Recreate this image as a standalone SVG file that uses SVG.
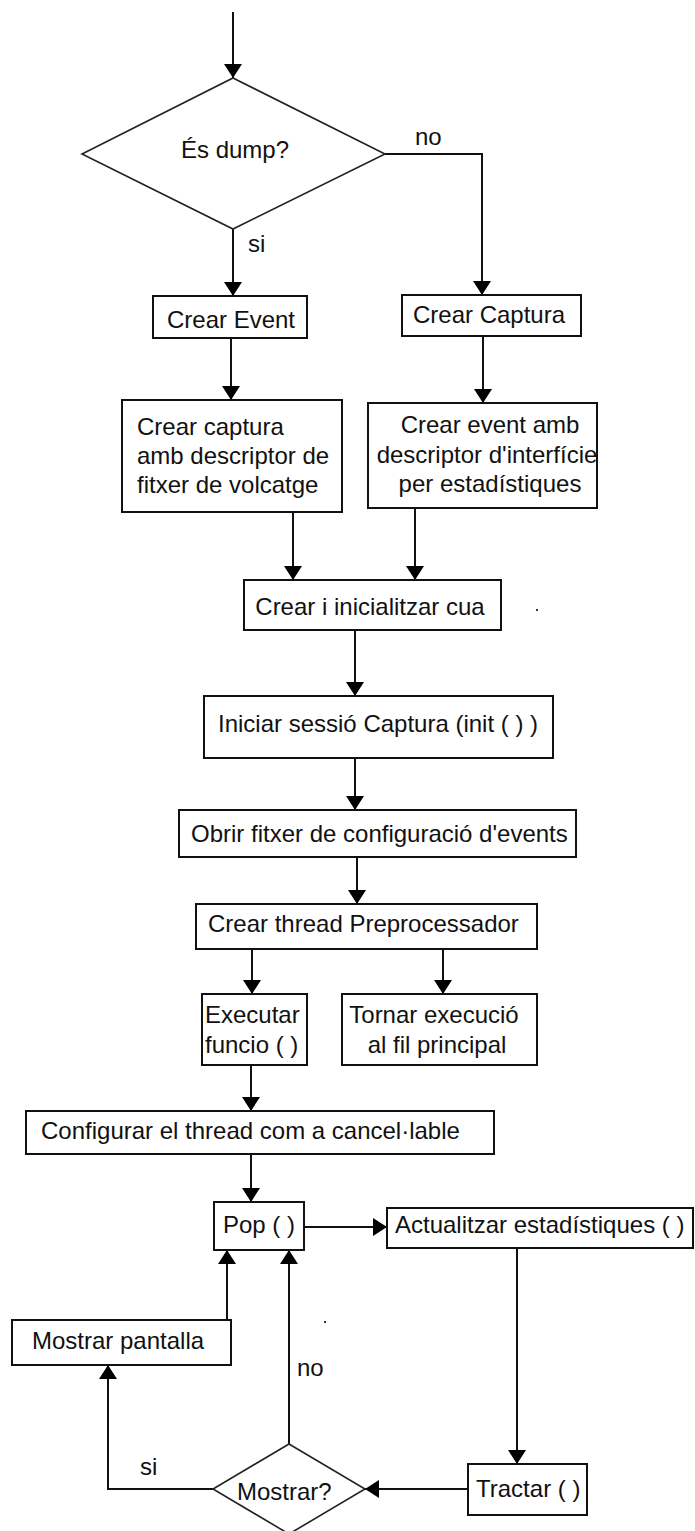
<svg xmlns="http://www.w3.org/2000/svg" width="695" height="1531" viewBox="0 0 695 1531">
  <style>
    .box { fill: #fff; stroke: #111; stroke-width: 2; }
    .dia { fill: #fff; stroke: #222; stroke-width: 1.6; }
    .lbl { font-family: "Liberation Sans", Arial, sans-serif; font-size: 24px; fill: #111; }
    .mid { text-anchor: middle; }
    .wire { fill: none; stroke: #111; stroke-width: 2; }
    .arrow { marker-end: url(#head); }
  </style>
  <defs>
    <marker id="head" markerUnits="userSpaceOnUse" viewBox="0 0 14 18" refX="14" refY="9" markerWidth="14" markerHeight="18" orient="auto">
      <path d="M0,0 L14,9 L0,18 z" fill="#000"/>
    </marker>
  </defs>
  <rect width="695" height="1531" fill="#fff"/>

  <!-- connectors -->
  <g id="connectors">
    <path class="wire arrow" d="M233,12 V78"/>
    <path class="wire arrow" d="M385,154 H482 V295"/>
    <path class="wire arrow" d="M233,229 V296"/>
    <path class="wire arrow" d="M231,338 V400"/>
    <path class="wire arrow" d="M483,336 V403"/>
    <path class="wire arrow" d="M293,512 V580"/>
    <path class="wire arrow" d="M415,508 V580"/>
    <path class="wire arrow" d="M355,630 V696"/>
    <path class="wire arrow" d="M355,758 V810"/>
    <path class="wire arrow" d="M357,857 V904"/>
    <path class="wire arrow" d="M252,949 V994"/>
    <path class="wire arrow" d="M443,949 V994"/>
    <path class="wire arrow" d="M251,1065 V1111"/>
    <path class="wire arrow" d="M251,1154 V1202"/>
    <path class="wire arrow" d="M304,1227 H387"/>
    <path class="wire arrow" d="M517,1248 V1464"/>
    <path class="wire arrow" d="M468,1489 H365"/>
    <path class="wire arrow" d="M289,1444 V1250"/>
    <path class="wire arrow" d="M213,1489 H108 V1365"/>
    <path class="wire arrow" d="M227,1320 V1250"/>
    <text class="lbl" x="415" y="145">no</text>
    <text class="lbl" x="248" y="252">si</text>
    <text class="lbl" x="297" y="1376">no</text>
    <text class="lbl" x="140" y="1475">si</text>
  </g>

  <g id="es-dump">
    <polygon class="dia" points="233,78 385,154 233,229 82,154"/>
    <text class="lbl mid" x="235" y="158">És dump?</text>
  </g>

  <g id="crear-event">
    <rect class="box" x="153" y="296" width="154" height="42"/>
    <text class="lbl mid" x="231" y="328">Crear Event</text>
  </g>

  <g id="crear-captura">
    <rect class="box" x="402" y="295" width="179" height="41"/>
    <text class="lbl mid" x="489" y="323">Crear Captura</text>
  </g>

  <g id="crear-captura-volcatge">
    <rect class="box" x="122" y="400" width="220" height="112"/>
    <text class="lbl" x="137" y="435">Crear captura</text>
    <text class="lbl" x="137" y="464">amb descriptor de</text>
    <text class="lbl" x="137" y="493">fitxer de volcatge</text>
  </g>

  <g id="crear-event-interficie">
    <rect class="box" x="368" y="403" width="229" height="105"/>
    <text class="lbl mid" x="490" y="433">Crear event amb</text>
    <text class="lbl mid" x="487" y="463">descriptor d'interfície</text>
    <text class="lbl mid" x="490" y="492">per estadístiques</text>
  </g>

  <g id="crear-cua">
    <rect class="box" x="244" y="580" width="257" height="50"/>
    <text class="lbl mid" x="370" y="615">Crear i inicialitzar cua</text>
  </g>

  <g id="iniciar-sessio">
    <rect class="box" x="204" y="696" width="349" height="62"/>
    <text class="lbl" x="218" y="732">Iniciar sessió Captura (init ( ) )</text>
  </g>

  <g id="obrir-fitxer">
    <rect class="box" x="179" y="810" width="397" height="47"/>
    <text class="lbl" x="191" y="842">Obrir fitxer de configuració d'events</text>
  </g>

  <g id="crear-thread">
    <rect class="box" x="196" y="904" width="341" height="45"/>
    <text class="lbl" x="208" y="932">Crear thread Preprocessador</text>
  </g>

  <g id="executar-funcio">
    <rect class="box" x="202" y="994" width="105" height="71"/>
    <text class="lbl" x="205" y="1023">Executar</text>
    <text class="lbl" x="205" y="1053">funcio ( )</text>
  </g>

  <g id="tornar-execucio">
    <rect class="box" x="342" y="994" width="195" height="71"/>
    <text class="lbl mid" x="434" y="1023">Tornar execució</text>
    <text class="lbl mid" x="437" y="1053">al fil principal</text>
  </g>

  <g id="configurar-thread">
    <rect class="box" x="26" y="1111" width="468" height="43"/>
    <text class="lbl" x="41" y="1139">Configurar el thread com a cancel·lable</text>
  </g>

  <g id="pop">
    <rect class="box" x="214" y="1202" width="90" height="48"/>
    <text class="lbl" x="223" y="1233">Pop ( )</text>
  </g>

  <g id="actualitzar">
    <rect class="box" x="387" y="1208" width="306" height="40"/>
    <text class="lbl" x="395" y="1233">Actualitzar estadístiques ( )</text>
  </g>

  <g id="mostrar-pantalla">
    <rect class="box" x="12" y="1320" width="219" height="45"/>
    <text class="lbl" x="32" y="1349">Mostrar pantalla</text>
  </g>

  <g id="tractar">
    <rect class="box" x="468" y="1464" width="119" height="51"/>
    <text class="lbl" x="476" y="1497">Tractar ( )</text>
  </g>

  <g id="mostrar">
    <polygon class="dia" points="289,1444 365,1489 289,1534 213,1489"/>
    <text class="lbl" x="237" y="1500">Mostrar?</text>
  </g>

  <!-- stray specks -->
  <rect x="536" y="609" width="2" height="2" fill="#333"/>
  <rect x="324" y="1321" width="2" height="2" fill="#333"/>
</svg>
